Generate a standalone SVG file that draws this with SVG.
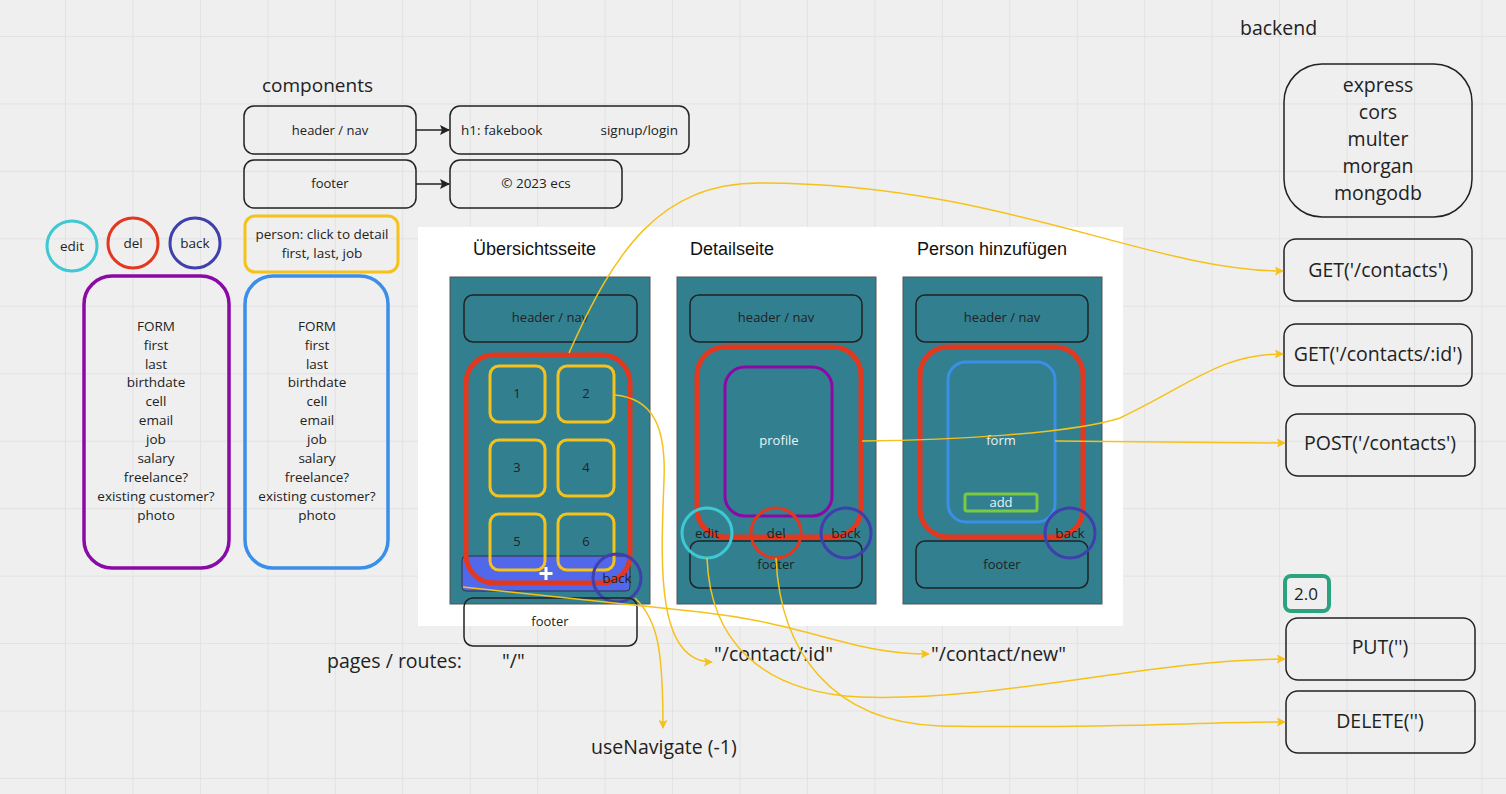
<svg xmlns="http://www.w3.org/2000/svg" width="1506" height="794" viewBox="0 0 1506 794">
<defs>
<pattern id="grid" x="65" y="36" width="67.45" height="67.45" patternUnits="userSpaceOnUse">
<path d="M0,0 H67.45 M0,0 V67.45" fill="none" stroke="#e2e2e2" stroke-width="2"/>
</pattern>
<marker id="ah" viewBox="0 0 10 10" refX="9" refY="5" markerWidth="9" markerHeight="9" markerUnits="userSpaceOnUse" orient="auto">
<path d="M0,0 L10,5 L0,10 L2,5 Z" fill="#f5c21b"/>
</marker>
<marker id="ak" viewBox="0 0 10 10" refX="9" refY="5" markerWidth="10" markerHeight="10" markerUnits="userSpaceOnUse" orient="auto">
<path d="M0,0 L10,5 L0,10 L2,5 Z" fill="#222"/>
</marker>
</defs>
<style>
text{font-family:"Open Sans","Noto Sans",sans-serif;fill:#222;}
.box{fill:none;stroke:#222;stroke-width:1.5;}
.t13{font-size:13px;text-anchor:middle;}
.f{font-size:13.5px;text-anchor:middle;}
.t19{font-size:19.5px;text-anchor:middle;}
.tt{font-family:"Liberation Sans",Arial,sans-serif;font-size:18px;fill:#111;}
.teal{fill:#32808f;stroke:#555;stroke-width:1;}
.red{fill:none;stroke:#e2381f;stroke-width:5;}
.yel{fill:none;stroke:#f5c21b;stroke-width:3;}
.cyan{fill:none;stroke:#3ec8d2;stroke-width:3;}
.del{fill:none;stroke:#e2381f;stroke-width:3;}
.ind{fill:none;stroke:#3f3fae;stroke-width:3;}
.conn{fill:none;stroke:#f5c21b;stroke-width:1.5;}
</style>
<rect width="1506" height="794" fill="#efefef"/>
<rect width="1506" height="794" fill="url(#grid)"/>

<g id="components-title"><text x="262" y="92" style="font-size:19px">components</text></g>
<g id="comp-header"><rect class="box" x="244" y="106" width="172" height="48" rx="10"/><text class="t13" x="330" y="135">header / nav</text></g>
<g id="comp-h1"><rect class="box" x="450" y="106" width="239" height="48" rx="10"/><text x="461" y="135" style="font-size:13.5px">h1: fakebook</text><text x="678" y="135" style="font-size:13.5px;text-anchor:end">signup/login</text></g>
<g id="comp-footer"><rect class="box" x="244" y="160" width="172" height="48" rx="10"/><text class="t13" x="330" y="188">footer</text></g>
<g id="comp-copy"><rect class="box" x="450" y="160" width="172" height="48" rx="10"/><text class="f" x="536" y="188">© 2023 ecs</text></g>
<g id="comp-person"><rect x="245" y="216" width="153" height="56" rx="10" fill="none" stroke="#f5c21b" stroke-width="3"/><text class="f" x="322" y="239">person: click to detail</text><text class="f" x="322" y="258">first, last, job</text></g>

<g id="btn-edit"><circle class="cyan" cx="72" cy="246" r="25"/><text class="f" x="72" y="251">edit</text></g>
<g id="btn-del"><circle class="del" cx="133" cy="243" r="25"/><text class="f" x="133" y="248">del</text></g>
<g id="btn-back"><circle class="ind" cx="195" cy="243" r="25"/><text class="f" x="195" y="248">back</text></g>

<g id="form-purple"><rect x="84" y="276" width="145" height="292" rx="28" fill="none" stroke="#8a0aa8" stroke-width="3.5"/>
<text class="f" x="156" y="331">FORM</text><text class="f" x="156" y="350">first</text><text class="f" x="156" y="369">last</text><text class="f" x="156" y="387">birthdate</text><text class="f" x="156" y="406">cell</text><text class="f" x="156" y="425">email</text><text class="f" x="156" y="444">job</text><text class="f" x="156" y="463">salary</text><text class="f" x="156" y="482">freelance?</text><text class="f" x="156" y="501">existing customer?</text><text class="f" x="156" y="520">photo</text></g>
<g id="form-blue"><rect x="245" y="276" width="143" height="292" rx="28" fill="none" stroke="#3b8fe8" stroke-width="3.5"/>
<text class="f" x="317" y="331">FORM</text><text class="f" x="317" y="350">first</text><text class="f" x="317" y="369">last</text><text class="f" x="317" y="387">birthdate</text><text class="f" x="317" y="406">cell</text><text class="f" x="317" y="425">email</text><text class="f" x="317" y="444">job</text><text class="f" x="317" y="463">salary</text><text class="f" x="317" y="482">freelance?</text><text class="f" x="317" y="501">existing customer?</text><text class="f" x="317" y="520">photo</text></g>

<g id="pages-panel"><rect x="418" y="227" width="705" height="399" fill="#ffffff"/>
<text class="tt" x="473" y="255">Übersichtsseite</text>
<text class="tt" x="690" y="255">Detailseite</text>
<text class="tt" x="917" y="255">Person hinzufügen</text></g>

<g id="page-overview">
<rect class="teal" x="450" y="277" width="200" height="327"/>
<rect class="box" x="464" y="295" width="173" height="47" rx="9"/><text class="t13" x="550" y="322">header / nav</text>
<rect x="462" y="556" width="168" height="35" rx="4" fill="#5268ea" stroke="#333" stroke-width="1"/>
<rect class="red" x="466" y="355" width="164" height="228" rx="28"/>
<rect class="yel" x="490" y="366" width="55" height="56" rx="9"/><text class="t13" x="517" y="398">1</text>
<rect class="yel" x="558" y="366" width="56" height="56" rx="9"/><text class="t13" x="586" y="398">2</text>
<rect class="yel" x="490" y="440" width="55" height="56" rx="9"/><text class="t13" x="517" y="472">3</text>
<rect class="yel" x="558" y="440" width="56" height="56" rx="9"/><text class="t13" x="586" y="472">4</text>
<rect class="yel" x="490" y="514" width="55" height="56" rx="9"/><text class="t13" x="517" y="546">5</text>
<rect class="yel" x="558" y="514" width="56" height="56" rx="9"/><text class="t13" x="586" y="546">6</text>
<path d="M546,567 V580 M539.5,573.5 H552.5" stroke="#ffffff" stroke-width="3"/>
<circle class="ind" cx="617" cy="578" r="24"/><text class="f" x="617" y="583">back</text>
<rect class="box" x="464" y="598" width="173" height="48" rx="9"/><text class="t13" x="550" y="626">footer</text>
</g>

<g id="page-detail">
<rect class="teal" x="677" y="277" width="199" height="327"/>
<rect class="box" x="690" y="295" width="172" height="47" rx="9"/><text class="t13" x="776" y="322">header / nav</text>
<rect class="box" x="690" y="541" width="172" height="47" rx="9"/><text class="t13" x="776" y="569">footer</text>
<rect class="red" x="697" y="347" width="164" height="190" rx="28"/>
<rect x="725" y="367" width="107" height="149" rx="20" fill="none" stroke="#8a0aa8" stroke-width="3"/><text class="t13" x="779" y="445" style="fill:#e8f4f6">profile</text>
<circle class="cyan" cx="707" cy="533" r="25"/><text class="f" x="707" y="538">edit</text>
<circle class="del" cx="776" cy="533" r="25"/><text class="f" x="776" y="538">del</text>
<circle class="ind" cx="846" cy="533" r="25"/><text class="f" x="846" y="538">back</text>
</g>

<g id="page-new">
<rect class="teal" x="903" y="277" width="199" height="327"/>
<rect class="box" x="916" y="295" width="172" height="47" rx="9"/><text class="t13" x="1002" y="322">header / nav</text>
<rect class="box" x="916" y="541" width="172" height="47" rx="9"/><text class="t13" x="1002" y="569">footer</text>
<rect class="red" x="920" y="347" width="163" height="190" rx="28"/>
<rect x="948" y="362" width="107" height="160" rx="18" fill="none" stroke="#3b8fe8" stroke-width="3"/><text class="t13" x="1001" y="445" style="fill:#e8f4f6">form</text>
<rect x="965" y="494" width="72" height="17" rx="2" fill="none" stroke="#7ac943" stroke-width="3"/><text class="t13" x="1001" y="507" style="fill:#e8f4f6">add</text>
<circle class="ind" cx="1070" cy="533" r="25"/><text class="f" x="1070" y="538">back</text>
</g>

<g id="routes">
<text x="327" y="668" style="font-size:19.5px">pages / routes:</text>
<text x="502" y="668" style="font-size:19.5px">"/"</text>
<text x="714" y="661" style="font-size:19.5px">"/contact/:id"</text>
<text x="931" y="661" style="font-size:19.5px">"/contact/new"</text>
<text x="591" y="754" style="font-size:19.5px">useNavigate (-1)</text>
</g>

<g id="backend">
<text x="1240" y="35" style="font-size:19.5px">backend</text>
<rect class="box" x="1284" y="64" width="188" height="153" rx="38"/>
<text class="t19" x="1378" y="92">express</text><text class="t19" x="1378" y="119">cors</text><text class="t19" x="1378" y="146">multer</text><text class="t19" x="1378" y="173">morgan</text><text class="t19" x="1378" y="200">mongodb</text>
</g>
<g id="get-contacts"><rect class="box" x="1284" y="239" width="188" height="62" rx="12"/><text class="t19" x="1378" y="277">GET('/contacts')</text></g>
<g id="get-contact-id"><rect class="box" x="1284" y="324" width="188" height="62" rx="12"/><text class="t19" x="1378" y="361">GET('/contacts/:id')</text></g>
<g id="post-contacts"><rect class="box" x="1286" y="414" width="189" height="62" rx="12"/><text class="t19" x="1380" y="450">POST('/contacts')</text></g>
<g id="version"><rect x="1285" y="576" width="44" height="35" rx="6" fill="none" stroke="#2aa37e" stroke-width="4"/><text x="1306" y="600" style="font-size:17px;text-anchor:middle">2.0</text></g>
<g id="put"><rect class="box" x="1286" y="618" width="189" height="62" rx="12"/><text class="t19" x="1380" y="654">PUT('')</text></g>
<g id="delete"><rect class="box" x="1286" y="691" width="189" height="62" rx="12"/><text class="t19" x="1380" y="728">DELETE('')</text></g>

<g id="connectors">
<line x1="416" y1="130" x2="449" y2="130" stroke="#222" stroke-width="1.5" marker-end="url(#ak)"/>
<line x1="416" y1="184" x2="449" y2="184" stroke="#222" stroke-width="1.5" marker-end="url(#ak)"/>
<path class="conn" d="M569,353 C615,250 660,183 760,183 C1000,183 1150,271 1283,271" marker-end="url(#ah)"/>
<path class="conn" d="M614,395 C655,398 666,430 664,480 C661,560 655,662 712,662" marker-end="url(#ah)"/>
<path class="conn" d="M463,587 L700,612 C810,624 850,654 929,654" marker-end="url(#ah)"/>
<path class="conn" d="M635,598 C658,620 663,650 663,728" marker-end="url(#ah)"/>
<path class="conn" d="M707,558 C710,640 760,692 860,697 C1000,702 1150,659 1285,659" marker-end="url(#ah)"/>
<path class="conn" d="M776,558 C780,650 830,722 940,726 C1100,729 1200,722 1285,722" marker-end="url(#ah)"/>
<path class="conn" d="M862,441 C950,440 1070,434 1120,418 C1190,385 1220,354 1283,354" marker-end="url(#ah)"/>
<path class="conn" d="M1055,441 L1285,443" marker-end="url(#ah)"/>
</g>
</svg>
